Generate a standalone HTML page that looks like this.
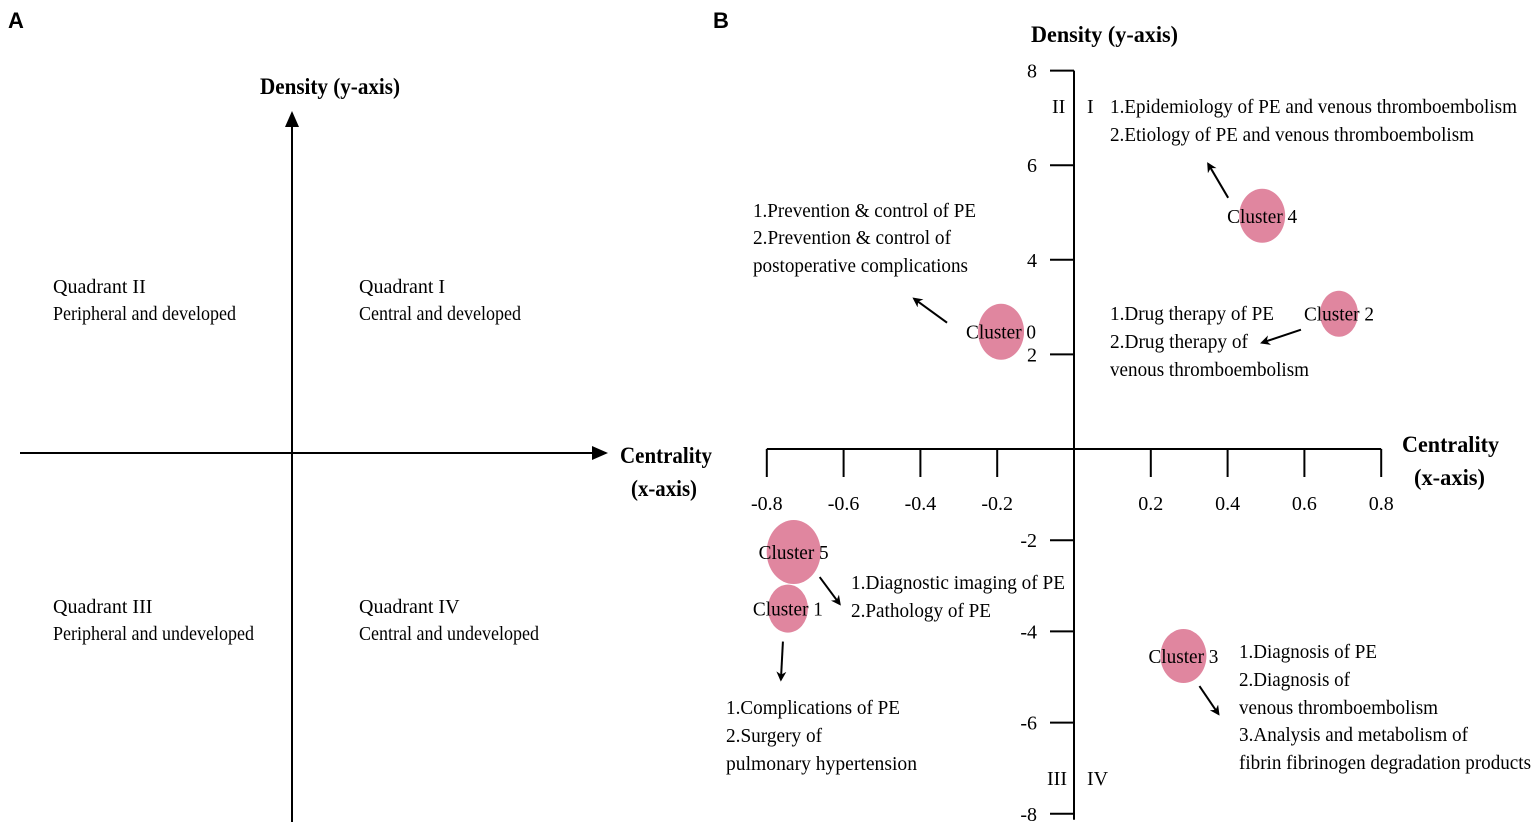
<!DOCTYPE html>
<html><head><meta charset="utf-8"><style>
html,body{margin:0;padding:0;background:#fff;}
svg{display:block;font-family:"Liberation Serif",serif;}
</style></head><body>
<svg id="fig" width="1535" height="826" viewBox="0 0 1535 826" xmlns="http://www.w3.org/2000/svg">
<defs>
<marker id="ah" markerWidth="10" markerHeight="10" refX="8" refY="5" orient="auto" markerUnits="userSpaceOnUse"><path d="M0,0 L10,5 L0,10 L3,5 z" fill="#000"/></marker>
<marker id="ah2" markerWidth="16" markerHeight="14" refX="14" refY="7" orient="auto" markerUnits="userSpaceOnUse"><path d="M0,0 L16,7 L0,14 z" fill="#000"/></marker>
</defs>
<g id="panelA">
<text x="8" y="28" font-family="Liberation Sans,sans-serif" font-weight="bold" font-size="22">A</text>
<line x1="292" y1="822" x2="292" y2="113" stroke="#000" stroke-width="2" marker-end="url(#ah2)"/>
<line x1="20" y1="453" x2="606" y2="453" stroke="#000" stroke-width="2" marker-end="url(#ah2)"/>
<text x="260" y="94" font-weight="bold" font-size="23" textLength="140" lengthAdjust="spacingAndGlyphs">Density (y-axis)</text>
<text x="620" y="463" font-weight="bold" font-size="23" textLength="92" lengthAdjust="spacingAndGlyphs">Centrality</text>
<text x="631" y="496" font-weight="bold" font-size="23" textLength="66" lengthAdjust="spacingAndGlyphs">(x-axis)</text>
<g font-size="20">
<text x="53" y="293">Quadrant II</text>
<text x="53" y="320" textLength="183" lengthAdjust="spacingAndGlyphs">Peripheral and developed</text>
<text x="359" y="293">Quadrant I</text>
<text x="359" y="320" textLength="162" lengthAdjust="spacingAndGlyphs">Central and developed</text>
<text x="53" y="613">Quadrant III</text>
<text x="53" y="640" textLength="201" lengthAdjust="spacingAndGlyphs">Peripheral and undeveloped</text>
<text x="359" y="613">Quadrant IV</text>
<text x="359" y="640" textLength="180" lengthAdjust="spacingAndGlyphs">Central and undeveloped</text>
</g>
</g>
<g id="panelB">
<text x="713" y="28" font-family="Liberation Sans,sans-serif" font-weight="bold" font-size="22">B</text>
<text x="1031" y="42" font-weight="bold" font-size="23" textLength="147" lengthAdjust="spacingAndGlyphs">Density (y-axis)</text>
<text x="1402" y="452" font-weight="bold" font-size="23" textLength="97" lengthAdjust="spacingAndGlyphs">Centrality</text>
<text x="1414" y="485" font-weight="bold" font-size="23" textLength="71" lengthAdjust="spacingAndGlyphs">(x-axis)</text>
<g font-size="20">
<text x="1052" y="113">II</text>
<text x="1087" y="113">I</text>
<text x="1047" y="785">III</text>
<text x="1087" y="785">IV</text>
</g>
<g id="axes"></g>
<g id="marks"></g>
<g font-size="20">
<text x="1110" y="113" textLength="407" lengthAdjust="spacingAndGlyphs">1.Epidemiology of PE and venous thromboembolism</text>
<text x="1110" y="141" textLength="364" lengthAdjust="spacingAndGlyphs">2.Etiology of PE and venous thromboembolism</text>
<text x="753" y="217" textLength="223" lengthAdjust="spacingAndGlyphs">1.Prevention &amp; control of PE</text>
<text x="753" y="244" textLength="198" lengthAdjust="spacingAndGlyphs">2.Prevention &amp; control of</text>
<text x="753" y="272" textLength="215" lengthAdjust="spacingAndGlyphs">postoperative complications</text>
<text x="1110" y="320" textLength="164" lengthAdjust="spacingAndGlyphs">1.Drug therapy of PE</text>
<text x="1110" y="348" textLength="138" lengthAdjust="spacingAndGlyphs">2.Drug therapy of</text>
<text x="1110" y="376" textLength="199" lengthAdjust="spacingAndGlyphs">venous thromboembolism</text>
<text x="851" y="589" textLength="214" lengthAdjust="spacingAndGlyphs">1.Diagnostic imaging of PE</text>
<text x="851" y="617" textLength="140" lengthAdjust="spacingAndGlyphs">2.Pathology of PE</text>
<text x="726" y="714" textLength="174" lengthAdjust="spacingAndGlyphs">1.Complications of PE</text>
<text x="726" y="742" textLength="96" lengthAdjust="spacingAndGlyphs">2.Surgery of</text>
<text x="726" y="770" textLength="191" lengthAdjust="spacingAndGlyphs">pulmonary  hypertension</text>
<text x="1239" y="658" textLength="138" lengthAdjust="spacingAndGlyphs">1.Diagnosis of PE</text>
<text x="1239" y="686" textLength="111" lengthAdjust="spacingAndGlyphs">2.Diagnosis of</text>
<text x="1239" y="714" textLength="199" lengthAdjust="spacingAndGlyphs">venous thromboembolism</text>
<text x="1239" y="741" textLength="229" lengthAdjust="spacingAndGlyphs">3.Analysis and metabolism of</text>
<text x="1239" y="769" textLength="292" lengthAdjust="spacingAndGlyphs">fibrin fibrinogen degradation products</text>
</g>
</g>
</svg>
<script>
const clusterNames = ["Cluster 0","Cluster 1","Cluster 2","Cluster 3","Cluster 4","Cluster 5"];
const centrality = [-0.19, -0.745, 0.69, 0.285, 0.49, -0.73];
const density = [2.48, -3.5, 2.86, -4.54, 4.93, -2.26];
const xTicks = [-0.8,-0.6,-0.4,-0.2,0.2,0.4,0.6,0.8];
const yTicks = [8,6,4,2,-2,-4,-6,-8];
const xLabels = ["-0.8","-0.6","-0.4","-0.2","0.2","0.4","0.6","0.8"];
const yLabels = ["8","6","4","2","-2","-4","-6","-8"];

const NS="http://www.w3.org/2000/svg";
const X0=1074, Y0=449, XS=384, YSP=47.3, YSN=45.6;
function sx(v){return X0+v*XS;}
function sy(v){return v>=0 ? Y0-v*YSP : Y0-v*YSN;}
function mk(tag,attrs,parent){const e=document.createElementNS(NS,tag);for(const k in attrs)e.setAttribute(k,attrs[k]);parent.appendChild(e);return e;}
const axes=document.getElementById('axes');
let ax=mk('line',{x1:sx(-0.8),y1:Y0,x2:sx(0.8),y2:Y0,stroke:'#000','stroke-width':2},axes);


let ay=mk('line',{x1:X0,y1:sy(8),x2:X0,y2:sy(-8)+6,stroke:'#000','stroke-width':2},axes);


xTicks.forEach((t,i)=>{
  const l=mk('line',{x1:sx(t),y1:Y0,x2:sx(t),y2:Y0+28,stroke:'#000','stroke-width':2},axes);
  
  
  const tx=mk('text',{x:sx(t),y:Y0+61,'text-anchor':'middle','font-size':20},axes);
  tx.textContent=xLabels[i];
  
  
});
yTicks.forEach((t,i)=>{
  const y=sy(t);
  const l=mk('line',{x1:X0-24,y1:y,x2:X0,y2:y,stroke:'#000','stroke-width':2},axes);
  
  
  const tx=mk('text',{x:X0-37,y:y+7,'text-anchor':'end','font-size':20},axes);
  tx.textContent=yLabels[i];
  
  
});
// arrow offsets relative to cluster center (pixel styling, not data)
const arrowStart=[[-54,-9],[-5,33],[-38,16],[16,30],[-34,-18],[26,25]];
const arrowEnd=[[-87,-33],[-7,71],[-77,29],[35,58],[-54,-52],[46,52]];
const rads=[[23,28],[20,24],[19,23],[23,27],[23,27],[27,32]];
const marks=document.getElementById('marks');
clusterNames.forEach((n,i)=>{
  const cx=sx(centrality[i]), cy=sy(density[i]);
  const e=mk('ellipse',{cx:cx,cy:cy,rx:rads[i][0],ry:rads[i][1],fill:'#e0869f'},marks);
  
  
  const t=mk('text',{x:cx,y:cy+7,'text-anchor':'middle','font-size':20,textLength:70,lengthAdjust:'spacingAndGlyphs'},marks);
  t.textContent=n;
  
  
  const a=mk('line',{x1:cx+arrowStart[i][0],y1:cy+arrowStart[i][1],x2:cx+arrowEnd[i][0],y2:cy+arrowEnd[i][1],stroke:'#000','stroke-width':2,'marker-end':'url(#ah)'},marks);
  
  
});
</script>
</body></html>
